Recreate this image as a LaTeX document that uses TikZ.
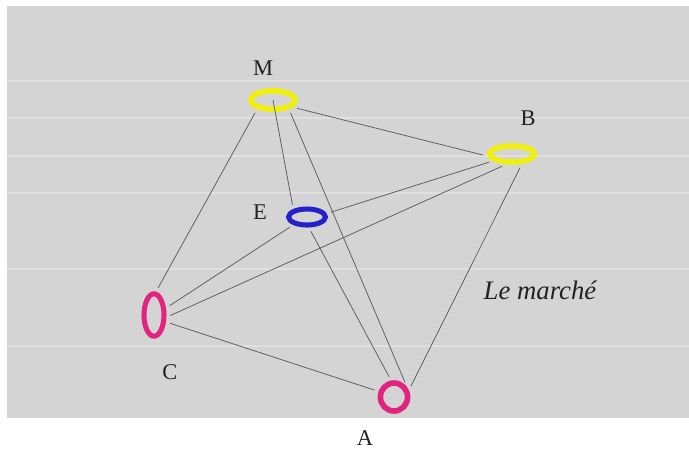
\documentclass[tikz,border=0pt]{standalone}
\usepackage{fontspec}
\setmainfont{Liberation Serif}
\usetikzlibrary{shapes.geometric}

\definecolor{backgray}{HTML}{D4D4D4}
\definecolor{stripewhite}{HTML}{E0E0E0}
\definecolor{roadgray}{HTML}{5E5E5E}
\definecolor{inkgray}{HTML}{222222}
\definecolor{yellowring}{HTML}{F0F010}
\definecolor{bluering}{HTML}{2222C8}
\definecolor{pinkring}{HTML}{E0247F}

\begin{document}
\begin{tikzpicture}[
  x = 0.025cm,
  y = -0.025cm,
  place/.style = {draw, ellipse, inner sep = 0pt, line width = 4pt},
  road/.style = {draw = roadgray, line width = 0.55pt, shorten <= 3pt, shorten >= 3pt},
  stripe/.style = {draw = stripewhite, line width = 1.4pt},
  letter/.style = {font = \fontsize{16}{18}\selectfont, text = inkgray},
  ]

  \useasboundingbox (0, 0) rectangle (689, 450);

  \fill [backgray] (7, 6) rectangle (689, 418);

  \foreach \y in {81, 118, 156, 193, 269, 346}
    \draw [stripe] (7, \y) -- (689, \y);

  \node at (273, 100)
  [place, draw = yellowring, minimum width = 1.1cm, minimum height = 0.46cm, name = M] {};

  \node at (512, 154)
  [place, draw = yellowring, minimum width = 1.12cm, minimum height = 0.4cm, name = B] {};

  \node at (307, 217)
  [place, draw = bluering, line width = 3.6pt, minimum width = 0.92cm, minimum height = 0.4cm, name = E] {};

  \node at (154, 315)
  [place, draw = pinkring, line width = 3.6pt, minimum width = 0.5cm, minimum height = 1.06cm, name = C] {};

  \node at (394, 397)
  [place, draw = pinkring, minimum width = 0.68cm, minimum height = 0.7cm, name = A] {};

  \node at (263, 68) [letter, name = Mlabel] {M};

  \node at (528, 118) [letter, name = Blabel] {B};

  \node at (260, 212) [letter, name = Elabel] {E};

  \node at (170, 372) [letter, name = Clabel] {C};

  \node at (365, 438) [letter, name = Alabel] {A};

  \node at (540, 290)
  [font = \fontsize{19}{22}\selectfont\itshape, text = inkgray, name = market] {Le marché};

  \draw [road] (M.210) to (C.85);

  \draw [road, shorten <= 0pt] (M.center) to (E.150);

  \draw [road] (M.-30) to (A.40);

  \draw [road] (M.-20) to (B.185);

  \draw [road] (B.200) to (E.10);

  \draw [road] (B.240) to (C.-10);

  \draw [road] (B.-45) to (A.25);

  \draw [road] (E.210) to (C.30);

  \draw [road] (E.-80) to (A.100);

  \draw [road] (C.-30) to (A.160);

\end{tikzpicture}
\end{document}
